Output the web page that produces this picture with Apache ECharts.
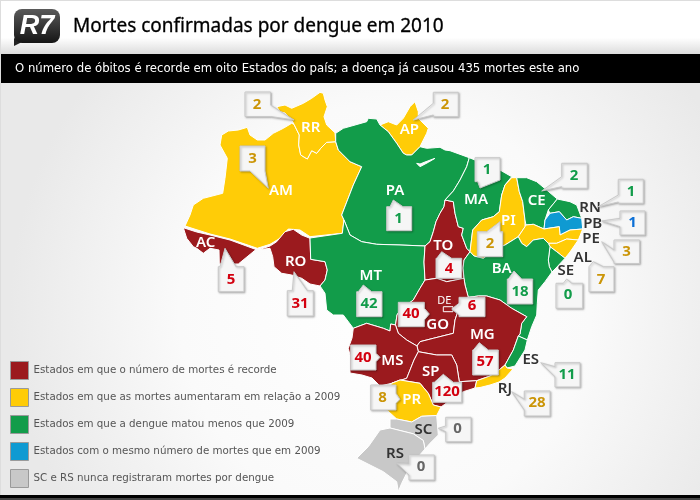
<!DOCTYPE html>
<html>
<head>
<meta charset="utf-8">
<title>Mortes confirmadas por dengue em 2010</title>
<script src="https://cdn.jsdelivr.net/npm/echarts@6/dist/echarts.min.js"></script>
<style>
html, body { margin: 0; padding: 0; background: #fff; }
#main { width: 700px; height: 500px; }
</style>
</head>
<body>
<div id="main"></div>
<script>
// dados
var estados = ['AC','AM','RR','AP','PA','RO','MT','TO','MA','PI','CE','RN','PB','PE','AL','SE','BA','GO','DE','MG','ES','MS','SP','RJ','PR','SC','RS'];
var mortes  = [5,3,2,2,1,31,42,4,1,2,2,1,1,3,7,0,18,40,6,57,11,40,120,28,8,0,0];
// indice em legendas / coresMapa
var grupos  = [0,1,1,1,2,0,2,0,2,1,2,2,3,1,1,2,2,0,0,0,2,0,0,1,1,4,4];
var legendas = [
	'Estados em que o número de mortes é recorde',
	'Estados em que as mortes aumentaram em relação a 2009',
	'Estados em que a dengue matou menos que 2009',
	'Estados com o mesmo número de mortes que em 2009',
	'SC e RS nunca registraram mortes por dengue'
];
var titulo = 'Mortes confirmadas por dengue em 2010';
var subtitulo = 'O número de óbitos é recorde em oito Estados do país; a doença já causou 435 mortes este ano';

// estilos
var coresMapa = ['#9b1a1e','#ffcc07','#129c4a','#0f9ad2','#c8c8c8'];
var coresNumero = ['#d3000f','#cb9507','#129c4a','#0b6fd6','#666666'];
var escuros = ['RN','PB','PE','AL','SE','ES','RJ','SC','RS'];

// contornos dos estados, em pixels da pagina
var contornos = {
	AC: [[183.3,227.7],[196.7,232],[210,235],[230,240],[256,249.5],[238.3,264],[219.3,264],[219,250],[210,248.3],[203.3,253.3],[196.7,248.3],[193.3,246.7],[186.7,238.3]],
	AM: [[221.7,135],[228.3,131],[238.3,130],[247.3,127.3],[250,135],[257.3,140],[265,140],[273.3,133.3],[283.3,128.3],[291.7,123.3],[294,124.3],[299.3,135],[298.7,145],[300.7,155],[307.3,159],[311.7,150.7],[316.7,153.3],[320.7,148.3],[326.7,142.3],[335.7,141.7],[338.3,150],[350,161.7],[361.7,166.7],[353.3,185],[341.7,215],[344,220],[342.3,233.3],[310,236.7],[300,230],[288.3,229],[280,238.3],[270,244.3],[257.3,248.3],[230,239],[210,234],[185,226],[190,215],[193.3,205],[203.3,198.3],[222.7,193.3],[225,178.3],[227.3,158.3],[220,145]],
	RR: [[276.7,106.7],[285,105],[291.7,108.3],[303.3,103.3],[311.7,98.3],[320,92.3],[323.3,93.3],[325,100],[327.3,106.7],[324,116.7],[326.7,125],[335,132.7],[335.7,141.7],[326.7,142.3],[320.7,148.3],[316.7,153.3],[311.7,150.7],[307.3,159],[300.7,155],[298.7,145],[299.3,135],[294,124.3],[291.7,120],[285,113],[280,111.7]],
	AP: [[380,125],[388.3,121.7],[396.7,125],[403.3,118.3],[410,106.7],[415,101.7],[418.3,111.7],[418.3,118.3],[428.3,128.3],[426.7,133.3],[420,146.7],[411.7,155],[406.7,155],[403.3,153.3],[396.7,143.3],[388.3,131.7]],
	PA: [[335.7,141.7],[335.7,133.3],[343.3,128.3],[355,125],[366.7,121.7],[368.3,118.3],[376.7,119],[380,125],[388.3,131.7],[396.7,143.3],[403.3,153.3],[406.7,155],[411.7,155],[420,146.7],[426.7,148.3],[440,147.3],[445,150],[450,150.7],[469.3,157.7],[466.7,166.7],[460,180],[453.3,191],[445,200],[444,206.7],[440,213.3],[436,221.7],[433.3,231.7],[430,241.7],[425,246],[400,245],[376.7,244.3],[361.7,241.7],[350,235],[344,220],[341.7,215],[353.3,185],[361.7,166.7],[350,161.7],[338.3,150]],
	RO: [[257.3,250],[263.3,248.3],[270,246],[276.7,241.7],[285,231.7],[293.3,229.3],[301.7,235],[310,238.3],[310.7,259.3],[325,261.7],[327.3,270],[325,280],[320,286],[310,284],[301.7,278.3],[291.7,275],[281.7,273.3],[274,266.7],[272.7,256.7],[270,248.3]],
	MT: [[310,238],[342.3,233.3],[344,220],[350,235],[361.7,241.7],[376.7,244.3],[400,245],[425,246],[424,262],[425,280],[420,288.3],[413.3,300],[400,310],[397,315],[395.5,325],[390.7,324],[390,331],[383.3,328.3],[366.7,323.3],[353.3,328.3],[343.3,315],[333.3,315],[326.7,310],[325,293.3],[320,286],[325,280],[327.3,270],[325,261.7],[310.7,259.3]],
	TO: [[445,200],[453.3,201.7],[455,213.3],[458.3,226.7],[463.3,228.3],[461.7,235],[466.7,248.3],[470,251.7],[464,260],[463,268],[464,278.3],[446.7,281.7],[436.7,278.3],[425,280],[424,262],[425,246],[430,241.7],[433.3,231.7],[436,221.7],[440,213.3],[444,206.7]],
	MA: [[469.3,157.7],[475,160],[500,170],[511.7,176.7],[505,185],[501.7,195],[499.3,211.7],[493.3,216.7],[481.7,220],[472.7,230],[470,251.7],[466.7,248.3],[461.7,235],[463.3,228.3],[458.3,226.7],[455,213.3],[453.3,201.7],[445,200],[453.3,191],[460,180],[466.7,166.7]],
	PI: [[511.7,177.7],[516.7,177.7],[519.3,191.7],[522.7,201.7],[525,220],[525,226.7],[518.3,236.7],[505,245],[496.7,248.3],[483.3,258.3],[474,256],[470,251.7],[472.7,230],[481.7,220],[493.3,216.7],[499.3,211.7],[501.7,195],[505,185]],
	CE: [[516.7,177.7],[526.7,177.7],[536.7,181.7],[546.7,190],[557.3,199],[548.3,210],[545,220],[544,229],[533.3,224.3],[526,225],[525,220],[522.7,201.7],[519.3,191.7]],
	RN: [[557.3,199],[570,201.7],[576.7,205],[581.7,218.3],[573.3,216.7],[566.7,220],[559.3,211.7],[550,213.3],[548.3,210]],
	PB: [[545,220],[550,213.3],[559.3,211.7],[566.7,220],[573.3,216.7],[581.7,218.3],[582.7,229],[570,230],[560,235],[559.3,226.7],[548.3,228.3],[544,229]],
	PE: [[525,226.7],[526,225],[533.3,224.3],[544,229],[548.3,228.3],[559.3,226.7],[560,235],[570,230],[582.7,229],[578.3,240],[566.7,239],[556.7,243.3],[548.3,243.3],[543.3,238.3],[533.3,240],[526.7,246.7],[521.7,243.3],[518.3,236.7]],
	AL: [[548.3,243.3],[556.7,243.3],[566.7,239],[578.3,240],[570,252],[565,258.3],[556.7,251.7],[550,246.7]],
	SE: [[550,246.7],[556.7,251.7],[565,258.3],[556,268],[552,272],[549.3,266.7],[548.3,260]],
	BA: [[470,251.7],[474,256],[483.3,258.3],[496.7,248.3],[505,245],[518.3,236.7],[521.7,243.3],[526.7,246.7],[533.3,240],[543.3,238.3],[548.3,243.3],[550,246.7],[548.3,260],[549.3,266.7],[552,272],[545,281.7],[538.3,290],[537.3,303.3],[536.7,315],[531.7,326.7],[527.3,340],[518.3,336],[520,334],[521.7,323.3],[526.7,316.7],[511.7,308.3],[500,300],[486.7,296],[478.3,296],[468.3,297.3],[465,285],[464,278.3],[463,268],[464,260]],
	GO: [[425,280],[436.7,278.3],[446.7,281.7],[464,278.3],[465,285],[468.3,297.3],[460,305],[455,320],[453.3,333.3],[433.3,338.3],[420,341.7],[417,346],[406.7,340],[398.3,333.3],[395.5,325],[397,315],[400,310],[413.3,300],[420,288.3]],
	DE: [[443.3,306.7],[453,306.7],[453,311.7],[443.3,311.7]],
	MG: [[468.3,297.3],[478.3,296],[486.7,296],[500,300],[511.7,308.3],[526.7,316.7],[521.7,323.3],[520,334],[518.3,336],[513.3,350],[505,365],[499,370],[490,376],[476.7,380.7],[459.3,381.7],[456.7,365],[451.7,355],[436.7,355],[418.3,351.7],[417,346],[420,341.7],[433.3,338.3],[453.3,333.3],[455,320],[460,305]],
	ES: [[518.3,336],[527.3,340],[525,350],[515,366],[507,368],[505,365],[513.3,350]],
	MS: [[353.3,328.3],[366.7,323.3],[383.3,328.3],[390,331],[390.7,324],[395.5,325],[398.3,333.3],[406.7,340],[417,346],[418.3,351.7],[414,360],[410,370],[406.7,378.3],[391.7,383.3],[380,386],[372,378],[362,375],[350,373],[350,355],[348.3,348.3],[352,338]],
	SP: [[418.3,351.7],[436.7,355],[451.7,355],[456.7,365],[459.3,381.7],[476.7,380.7],[475,388],[463.3,391.7],[453.3,398],[441,407],[433.3,405],[428.3,393.3],[420,383.3],[400,380],[391.7,383.3],[406.7,378.3],[410,370],[414,360]],
	RJ: [[505,365],[507,368],[513,369],[505,378],[499,382],[490,385],[480,387.5],[475,388],[476.7,380.7],[490,376],[499,370]],
	PR: [[391.7,383.3],[400,380],[420,383.3],[428.3,393.3],[433.3,405],[441,407],[436.7,415.5],[421.7,416.3],[411.7,422],[396.7,419],[388,411],[382,408],[385,395]],
	SC: [[390,419],[396.7,419],[411.7,422],[421.7,416.3],[436.7,415.5],[438.3,435],[430,443.3],[425,449],[423.3,440.5],[413.3,433.8],[400,430.5],[390,428]],
	RS: [[390,428],[400,430.5],[413.3,433.8],[423.3,440.5],[425,449],[418.3,456.7],[410,466.7],[401.7,483.3],[398.3,491.7],[396.7,481.7],[383.3,471.7],[370,465],[356.7,458.3],[368.3,446.7],[380,430]]
};
// foz do Amazonas, furo dentro do PA
var furos = { PA: [[416.7,163.3],[420,166.7],[428.3,162.3],[435,158.3],[425,162],[420,164]] };

// centro das siglas
var siglas = {
	AC:[205.7,242.7], AM:[281,191], RR:[310.7,127.7], AP:[409.3,130], PA:[395,191], RO:[295.7,261.7], MT:[370.7,275.7],
	TO:[443.3,245.7], MA:[476,200], PI:[508.3,221], CE:[536.7,201], RN:[590,207.3], PB:[592.7,223.3], PE:[591,239],
	AL:[582.7,257.3], SE:[565.7,271], BA:[501.7,268.3], GO:[437.7,325], DE:[444.3,300.7], MG:[482.3,335], ES:[530.7,360],
	MS:[392.3,360.7], SP:[430.7,371.7], RJ:[505,388.3], PR:[411.7,400], SC:[423.3,429.3], RS:[395,454]
};

// baloes: centro do numero e contorno com a ponta
var baloes = {
	RR: {c:[257,104.5], p:[[245,92],[270.5,92],[270.5,105],[294,120],[270.5,116.5],[245,116.5]]},
	AM: {c:[252.5,159], p:[[240,146],[265,146],[265,171],[268.3,188.3],[250,171],[240,171]]},
	AP: {c:[445,105], p:[[433.3,92.3],[458.3,92.3],[458.3,116.7],[433.3,116.7],[433.3,115],[413.3,120],[433.3,103.3]]},
	PA: {c:[398.5,219], p:[[386.7,206.7],[390,206.7],[393.3,200],[403,206.7],[411.7,206.7],[411.7,230.7],[386.7,230.7]]},
	MA: {c:[487,170], p:[[475,157.7],[500,157.7],[500,180],[480,188],[477.7,181.7],[475,181.7]]},
	PI: {c:[490,244], p:[[477.3,231.7],[486.7,231.7],[500,221.7],[500,231.7],[502.7,231.7],[502.7,256.7],[477.3,256.7]]},
	CE: {c:[574,175.5], p:[[561.7,163.3],[587.3,163.3],[587.3,188.3],[561.7,188.3],[561.7,186.7],[541.7,191],[561.7,176.7]]},
	RN: {c:[631,191.5], p:[[618.3,179.3],[643.3,179.3],[643.3,203.3],[618.3,203.3],[618.3,202],[598.3,206.7],[618.3,195]]},
	PB: {c:[632.5,223], p:[[620,211],[645,211],[645,235],[620,235],[620,226.7],[601.7,221],[620,218.3]]},
	PE: {c:[626.5,252], p:[[614,240],[639.5,240],[639.5,263.5],[614,263.5],[614,262],[601.7,241.7],[614,250]]},
	AL: {c:[601,280], p:[[589,266.7],[593.3,261.7],[603.3,266.7],[614,266.7],[614,291.7],[589,291.7]]},
	SE: {c:[568,295], p:[[556,283.3],[563.3,283.3],[566.7,279],[571.7,283.3],[582.7,283.3],[582.7,308.3],[556,308.3]]},
	BA: {c:[520,292], p:[[507.3,279],[508.3,279],[514,271],[521.7,279],[532.7,279],[532.7,304],[507.3,304]]},
	TO: {c:[449,269], p:[[436,258.3],[436.7,258.3],[441.7,251.7],[451.7,258.3],[461.7,258.3],[461.7,278.3],[436,278.3]]},
	DE: {c:[472,306], p:[[459,297.3],[485,297.3],[485,316.7],[459,316.7],[459,315],[451.7,309],[459,303.3]]},
	GO: {c:[411,314], p:[[398.3,302.3],[424.3,302.3],[424.3,308.3],[429.3,314],[424.3,320],[424.3,326.7],[398.3,326.7]]},
	MT: {c:[369,304], p:[[356.7,291.7],[358.3,291.7],[363.3,285],[371.7,291.7],[382,291.7],[382,316.7],[356.7,316.7]]},
	MS: {c:[363,358], p:[[350.7,345],[376,345],[376,353.3],[380,357.3],[376,361.7],[376,370],[350.7,370]]},
	MG: {c:[485,362], p:[[472.7,350],[473.3,350],[479.3,342.7],[488.3,350],[498.3,350],[498.3,375],[472.7,375]]},
	SP: {c:[447,392], p:[[432.7,382.3],[434.3,382.3],[443.3,374.3],[453.3,382.3],[461.7,382.3],[461.7,402.3],[432.7,402.3]]},
	PR: {c:[382.5,398], p:[[370.7,385],[396,385],[396,393.3],[400,399.3],[396,403.3],[396,410],[370.7,410]]},
	ES: {c:[567,375], p:[[555,362.7],[580,362.7],[580,387],[555,387],[555,376.7],[540.7,362.7],[555,366.7]]},
	RJ: {c:[537,403], p:[[524.3,391],[550,391],[550,416],[524.3,416],[524.3,410],[511.7,391.7],[524.3,399.3]]},
	AC: {c:[231,280], p:[[218.3,266.7],[220,266.7],[225,248.3],[236,266.7],[244,266.7],[244,291.7],[218.3,291.7]]},
	RO: {c:[300,304], p:[[287.3,290.7],[292.3,290.7],[294,271.7],[307.3,290.7],[313.3,290.7],[313.3,316],[287.3,316]]},
	SC: {c:[457.5,429], p:[[445.7,417.3],[471,417.3],[471,441.7],[445.7,441.7],[445.7,431.7],[438.3,428.3],[445.7,426]]},
	RS: {c:[421,467], p:[[409,455],[434.3,455],[434.3,480],[409,480],[409,475],[396.7,463.3],[409,464]]}
};

var fonteRotulo = '"Noto Sans", sans-serif';

function fechar(anel) { return anel.concat([anel[0]]); }

// GeoJSON montado a partir dos contornos
var mapa = {
	type: 'FeatureCollection',
	features: estados.map(function (uf) {
		var aneis = [fechar(contornos[uf])];
		if (furos[uf]) aneis.push(fechar(furos[uf]));
		return {
			type: 'Feature',
			properties: { name: uf },
			geometry: { type: 'Polygon', coordinates: aneis }
		};
	})
};
echarts.registerMap('brasil', mapa);

var myChart = echarts.init(document.getElementById('main'));

// series vazias so para alimentar a legenda
var seriesLegenda = legendas.map(function (nome, i) {
	return {
		name: nome,
		type: 'scatter',
		coordinateSystem: 'geo',
		data: [],
		itemStyle: { color: coresMapa[i], opacity: 1 }
	};
});

var option = {
	animation: false,
	backgroundColor: {
		type: 'radial', x: 0.55, y: 0.62, r: 0.75,
		colorStops: [{ offset: 0, color: '#ffffff' }, { offset: 0.55, color: '#fafafa' }, { offset: 1, color: '#e9e9e9' }]
	},
	tooltip: { show: false },
	legend: {
		orient: 'vertical',
		left: 10,
		top: 361,
		padding: 0,
		itemWidth: 18,
		itemHeight: 18,
		itemGap: 8,
		icon: 'rect',
		selectedMode: false,
		data: legendas,
		itemStyle: { borderColor: '#9a9a9a', borderWidth: 1, opacity: 1 },
		textStyle: { color: '#555555', fontSize: 10.3, fontFamily: '"DejaVu Sans", sans-serif' }
	},
	geo: {
		map: 'brasil',
		silent: true,
		roam: false,
		left: 0, top: 0, width: 700, height: 500,
		projection: {
			project: function (p) { return p; },
			unproject: function (p) { return p; }
		},
		boundingCoords: [[0, 0], [700, 500]],
		label: { show: false },
		itemStyle: { borderColor: '#ffffff', borderWidth: 1 },
		regions: estados.map(function (uf, i) {
			return { name: uf, itemStyle: { areaColor: coresMapa[grupos[i]] } };
		})
	},
	graphic: [
		// cabecalho
		{ type: 'rect', shape: { x: 0, y: 0, width: 700, height: 54 }, style: {
			fill: { type: 'linear', x: 0, y: 0, x2: 0, y2: 1, colorStops: [{ offset: 0, color: '#ffffff' }, { offset: 0.7, color: '#ffffff' }, { offset: 1, color: '#dcdcdc' }] }
		} },
		{ type: 'rect', shape: { x: 0, y: 54, width: 700, height: 29 }, style: { fill: '#000000' } },
		{ type: 'rect', shape: { x: 0, y: 495, width: 700, height: 3 }, style: { fill: '#000000' } },
		{ type: 'rect', shape: { x: 0, y: 498, width: 700, height: 2 }, style: { fill: '#444444' } },
		{ type: 'rect', shape: { x: 0, y: 0, width: 700, height: 1 }, style: { fill: '#dddddd' } },
		{ type: 'rect', shape: { x: 0, y: 0, width: 1, height: 495 }, style: { fill: '#dddddd' } },
		// logo R7
		{ type: 'polygon', shape: { points: [[14,38],[14,46],[22,42]] }, style: { fill: '#222222' } },
		{ type: 'rect', shape: { x: 14, y: 9, width: 46, height: 34, r: 8 }, style: {
			fill: { type: 'linear', x: 0, y: 0, x2: 0, y2: 1, colorStops: [{ offset: 0, color: '#5a5a5a' }, { offset: 1, color: '#151515' }] }
		} },
		{ type: 'text', style: { x: 37, y: 26.5, text: 'R7', align: 'center', verticalAlign: 'middle', fill: '#ffffff', font: 'italic bold 27px "Liberation Sans", sans-serif' } },
		// textos
		{ type: 'text', style: { x: 73, y: 27, text: titulo, verticalAlign: 'middle', fill: '#000000', stroke: '#000000', lineWidth: 0.3, font: '19px "Noto Sans", sans-serif' } },
		{ type: 'text', style: { x: 15, y: 69, text: subtitulo, verticalAlign: 'middle', fill: '#ffffff', font: '11.7px "DejaVu Sans", sans-serif' } }
	],
	series: seriesLegenda.concat([
		{
			// siglas
			type: 'custom',
			coordinateSystem: 'geo',
			silent: true,
			z: 3,
			data: estados.map(function (uf, i) { return [siglas[uf][0], siglas[uf][1], i]; }),
			renderItem: function (params, api) {
				var uf = estados[api.value(2)];
				var pt = api.coord([api.value(0), api.value(1)]);
				var fonte = uf === 'DE' ? '11px ' + fonteRotulo : '600 15px ' + fonteRotulo;
				return {
					type: 'text',
					style: {
						x: pt[0], y: pt[1], text: uf, align: 'center', verticalAlign: 'middle',
						fill: escuros.indexOf(uf) >= 0 ? '#333333' : '#ffffff', font: fonte
					}
				};
			}
		},
		{
			// baloes com o numero de mortes
			type: 'custom',
			coordinateSystem: 'geo',
			silent: true,
			z: 4,
			data: estados.map(function (uf, i) { return [baloes[uf].c[0], baloes[uf].c[1], mortes[i], i]; }),
			renderItem: function (params, api) {
				var i = api.value(3);
				var pt = api.coord([api.value(0), api.value(1)]);
				var pontos = baloes[estados[i]].p.map(function (q) { return api.coord(q); });
				return {
					type: 'group',
					children: [
						{
							type: 'polygon',
							shape: { points: pontos },
							style: { fill: '#f6f6f6', stroke: '#c9c9c9', lineWidth: 1, shadowBlur: 2, shadowOffsetX: 1, shadowOffsetY: 1, shadowColor: 'rgba(0,0,0,0.25)' }
						},
						{
							type: 'text',
							style: {
								x: pt[0], y: pt[1], text: String(api.value(2)), align: 'center', verticalAlign: 'middle',
								fill: coresNumero[grupos[i]], font: 'bold 15px ' + fonteRotulo
							}
						}
					]
				};
			}
		}
	])
};

myChart.setOption(option);
</script>
</body>
</html>
